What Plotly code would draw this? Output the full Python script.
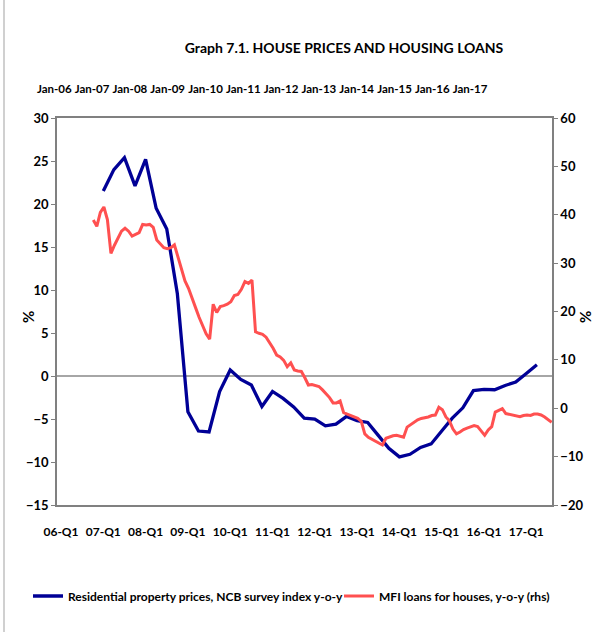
import plotly.graph_objects as go

# ---------------- data ----------------
quarters = ["06-Q1", "06-Q2", "06-Q3", "06-Q4",
            "07-Q1", "07-Q2", "07-Q3", "07-Q4",
            "08-Q1", "08-Q2", "08-Q3", "08-Q4",
            "09-Q1", "09-Q2", "09-Q3", "09-Q4",
            "10-Q1", "10-Q2", "10-Q3", "10-Q4",
            "11-Q1", "11-Q2", "11-Q3", "11-Q4",
            "12-Q1", "12-Q2", "12-Q3", "12-Q4",
            "13-Q1", "13-Q2", "13-Q3", "13-Q4",
            "14-Q1", "14-Q2", "14-Q3", "14-Q4",
            "15-Q1", "15-Q2", "15-Q3", "15-Q4",
            "16-Q1", "16-Q2", "16-Q3", "16-Q4",
            "17-Q1", "17-Q2"]

house_prices = [None, None, None, None,
                21.5, 24.0, 25.4, 22.1,
                25.2, 19.5, 17.1, 9.6,
                -4.15, -6.4, -6.5, -1.8,
                0.7, -0.4, -1.05, -3.55,
                -1.8, -2.6, -3.6, -4.9,
                -5.0, -5.8, -5.6, -4.7,
                -5.2, -5.4, -6.9, -8.4,
                -9.4, -9.1, -8.3, -7.9,
                -6.4, -4.9, -3.7, -1.7,
                -1.55, -1.6, -1.1, -0.7,
                0.3, 1.3]

month_names = ["Jan", "Feb", "Mar", "Apr", "May", "Jun",
               "Jul", "Aug", "Sep", "Oct", "Nov", "Dec"]
months = [f"{m}-{y:02d}" for y in range(7, 18) for m in month_names][:131]  # Jan-07 .. Nov-17

mfi_loans = [38.9, 37.6, 40.5, 41.6, 39.0, 32.0, 33.7, 35.2, 36.6, 37.2, 36.6, 35.6,
             35.9, 36.3, 38.0, 37.9, 38.0, 37.4, 34.8, 34.0, 33.2, 33.0, 33.2, 33.8,
             31.2, 28.8, 26.3, 24.8, 23.0, 20.8, 18.8, 17.0, 15.4, 14.3, 21.5, 19.8,
             21.0, 21.2, 21.5, 22.0, 23.3, 23.5, 24.6, 26.2, 25.8, 26.5, 15.8, 15.5,
             15.3, 14.7, 13.6, 12.4, 11.0, 10.6, 9.9, 8.6, 9.4, 7.9, 7.7, 7.6,
             6.3, 4.8, 4.9, 4.7, 4.5, 3.8, 3.0, 2.2, 1.1, 1.1, 1.5, -0.9,
             -1.2, -1.5, -1.8, -2.1, -2.7, -5.3, -6.0, -6.4, -6.7, -7.1, -7.6, -6.2,
             -5.9, -5.7, -5.6, -5.8, -6.0, -3.9, -3.4, -2.8, -2.4, -2.1, -2.0, -1.8,
             -1.5, -1.4, 0.2, -0.3, -1.8, -2.6, -4.3, -5.3, -4.9, -4.4, -4.1, -3.9,
             -3.6, -3.8, -4.8, -5.6, -4.5, -3.8, -0.8, -0.4, -0.1, -1.1, -1.3, -1.4,
             -1.6, -1.75, -1.5, -1.4, -1.5, -1.2, -1.2, -1.4, -1.8, -2.4, -2.9]

bottom_ticks = ["06-Q1", "07-Q1", "08-Q1", "09-Q1", "10-Q1", "11-Q1",
                "12-Q1", "13-Q1", "14-Q1", "15-Q1", "16-Q1", "17-Q1"]
top_ticks = ["Jan-06", "Jan-07", "Jan-08", "Jan-09", "Jan-10", "Jan-11",
             "Jan-12", "Jan-13", "Jan-14", "Jan-15", "Jan-16", "Jan-17"]

series_names = ["Residential property prices, NCB survey index y-o-y",
                "MFI loans for houses, y-o-y (rhs)"]
title_text = "Graph 7.1. HOUSE PRICES AND HOUSING LOANS"
y_unit = "%"

# ---------------- styling ----------------
FONT = "Lato, Roboto, sans-serif"
BLUE = "#000096"
RED = "#FF5050"
AXIS = "#808080"

fig = go.Figure()
fig.add_trace(go.Scatter(x=quarters, y=house_prices, mode="lines",
                         name=series_names[0], xaxis="x", yaxis="y",
                         line=dict(color=BLUE, width=3.3), connectgaps=False,
                         legend="legend"))
fig.add_trace(go.Scatter(x=months, y=mfi_loans, mode="lines",
                         name=series_names[1], xaxis="x3", yaxis="y2",
                         line=dict(color=RED, width=3), legend="legend2"))
# empty anchor trace so that the top (label-only) date axis is drawn
fig.add_trace(go.Scatter(x=list(range(len(top_ticks))), y=[None] * len(top_ticks),
                         mode="lines", xaxis="x2", yaxis="y", showlegend=False,
                         hoverinfo="skip"))

bottom_font = dict(family=FONT, size=12, color="black", weight="bold")
top_font = dict(family=FONT, size=11.5, color="black", weight="bold")
ytick_font = dict(family=FONT, size=13, color="black", weight="bold")
legend_font = dict(family=FONT, size=12, color="black", weight="bold")

legend_common = dict(orientation="h", xref="container", yref="container",
                     xanchor="left", y=1 - 596 / 632, yanchor="middle",
                     font=legend_font, itemwidth=30, bgcolor="rgba(0,0,0,0)")

fig.update_layout(
    width=598, height=632,
    margin=dict(l=57, r=46, t=118, b=127, autoexpand=False),
    paper_bgcolor="white", plot_bgcolor="white",
    font=dict(family=FONT, color="black"),
    title=dict(text=f"<b>{title_text}</b>", x=344 / 598, xanchor="center",
               y=1 - 48 / 632, yanchor="middle",
               font=dict(family=FONT, size=14, color="black")),
    showlegend=True,
    legend=dict(x=28 / 598, **legend_common),
    legend2=dict(x=339 / 598, **legend_common),
    xaxis=dict(type="category", categoryorder="array", categoryarray=quarters,
               range=[-0.378, 46.43], tickmode="array", tickvals=bottom_ticks,
               ticktext=bottom_ticks, ticks="", showgrid=False, zeroline=False,
               showline=True, linecolor=AXIS, linewidth=1.5, tickangle=0,
               tickfont=bottom_font, ticklabelstandoff=15, anchor="y",
               automargin=False),
    xaxis2=dict(type="linear", overlaying="x", side="top", anchor="y",
                range=[-0.0344, 13.061], tickmode="array",
                tickvals=list(range(len(top_ticks))), ticktext=top_ticks,
                ticklabelshift=-4, ticks="", showgrid=False, zeroline=False,
                showline=True, linecolor=AXIS, linewidth=1.5, tickangle=0,
                tickfont=top_font, ticklabelstandoff=19, automargin=False,
                visible=True),
    xaxis3=dict(type="category", categoryorder="array", categoryarray=months,
                overlaying="x", anchor="y2", range=[-10.295, 130.09],
                visible=False, showgrid=False, zeroline=False, automargin=False),
    yaxis=dict(range=[-15, 30], dtick=5, tick0=0, ticks="outside", ticklen=4,
               tickcolor=AXIS, showline=True, linecolor=AXIS, linewidth=1.5,
               showgrid=False, zeroline=True, zerolinecolor="#A6A6A6", zerolinewidth=1.5,
               tickfont=ytick_font, automargin=False),
    yaxis2=dict(range=[-20, 60], dtick=10, tick0=0, ticks="outside", ticklen=4,
                tickcolor=AXIS, overlaying="y", side="right", anchor="x",
                showline=True, linecolor=AXIS, linewidth=1.5, automargin=False,
                showgrid=False, zeroline=False, tickfont=ytick_font),
    annotations=[
        dict(text=f"<b>{y_unit}</b>", xref="paper", yref="paper",
             x=(28 - 57) / 495, y=(505 - 317) / 387, showarrow=False, textangle=-90,
             xanchor="center", yanchor="middle",
             font=dict(family=FONT, size=15, color="black")),
        dict(text=f"<b>{y_unit}</b>", xref="paper", yref="paper",
             x=(585 - 57) / 495, y=(505 - 317) / 387, showarrow=False, textangle=-90,
             xanchor="center", yanchor="middle",
             font=dict(family=FONT, size=15, color="black")),
    ],
    shapes=[dict(type="line", xref="paper", yref="paper",
                 x0=-53 / 495, x1=-53 / 495, y0=-127 / 387, y1=1 + 118 / 387,
                 line=dict(color="#D0D0D0", width=2))],
)

fig.write_html("out.html",
               config={"displayModeBar": False},
               post_script="document.body.style.margin='0px';"
                           "document.body.style.overflow='hidden';")
